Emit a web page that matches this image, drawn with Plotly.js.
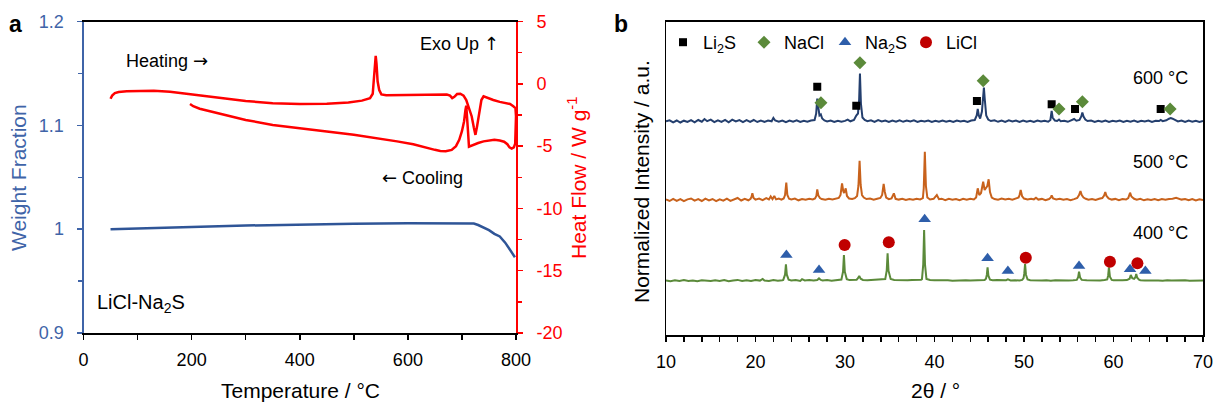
<!DOCTYPE html>
<html>
<head>
<meta charset="utf-8">
<script src="https://cdn.plot.ly/plotly-3.0.1.min.js"></script>
<style>html,body{margin:0;padding:0;background:#fff;}#chart{width:1215px;height:406px;}</style>
</head>
<body>
<div id="chart"></div>
<script>
// ---------- Panel a: TGA / DSC ----------
const tgaTemp   = [50, 100, 200, 300, 400, 500, 600, 700, 722, 730, 740, 750, 760, 770, 780, 785, 790, 798];
const tgaWeight = [1.000, 1.0005, 1.002, 1.0035, 1.0045, 1.0053, 1.0056, 1.0056, 1.0055, 1.004, 1.0015, 0.999, 0.9955, 0.993, 0.987, 0.983, 0.979, 0.973];

const dscHeatT  = [50, 53, 58, 65, 80, 100, 130, 160, 200, 250, 300, 350, 400, 450, 490, 515, 530, 535, 537, 539, 540.5, 542, 544, 547, 551, 560, 600, 640, 672, 678, 682, 686, 691, 697, 703, 708, 713, 718, 722, 725, 728, 732, 736, 740, 745, 758, 770, 780, 789, 795, 799];
const dscHeatHF = [-1.2, -0.95, -0.75, -0.66, -0.6, -0.57, -0.56, -0.63, -0.85, -1.12, -1.38, -1.56, -1.63, -1.6, -1.5, -1.35, -1.15, -0.8, 0.3, 1.8, 2.25, 1.6, 0.2, -0.5, -0.85, -0.92, -0.9, -0.86, -0.86, -0.95, -1.15, -1.05, -0.82, -0.8, -0.95, -1.3, -1.9, -2.6, -3.5, -4.1, -3.4, -2.2, -1.3, -1.0, -1.1, -1.3, -1.45, -1.55, -1.62, -1.8, -1.95];
const dscCoolT  = [800, 799.5, 798.5, 796, 792, 788, 784, 778, 770, 760, 750, 740, 730, 722, 716, 713, 711.5, 710, 708, 706.5, 704, 700, 695, 689, 681, 670, 660, 650, 635, 610, 580, 550, 500, 450, 400, 350, 300, 250, 215, 203, 197];
const dscCoolHF = [-2.6, -3.8, -4.8, -5.1, -5.2, -5.1, -4.85, -4.65, -4.55, -4.5, -4.55, -4.62, -4.75, -4.88, -5.0, -5.05, -4.0, -2.6, -1.75, -2.1, -3.0, -3.8, -4.5, -5.0, -5.3, -5.42, -5.4, -5.3, -5.12, -4.85, -4.62, -4.42, -4.08, -3.82, -3.55, -3.3, -2.9, -2.4, -2.0, -1.8, -1.62];

const hfTickVals = [-20, -15, -10, -5, 0, 5];
const hfTickText = ['-20', '-15', '-10', '-5', '0', '5'];

// ---------- Panel b: XRD (relative intensity, [2theta, I]) ----------
const xrdLabels  = ['400 °C', '500 °C', '600 °C'];
const xrdOffsets = [54.3, 135, 213.5];
const xrdColors  = ['#5B8A3A', '#C8621C', '#243F6E'];

const xrd400 = [[10.0,0.3],[10.5,-0.5],[11.0,0.4],[11.5,-0.3],[12.0,0.6],[12.5,-0.4],[13.0,0.2],[13.5,-0.6],[14.0,0.5],[14.5,0.0],[15.0,-0.4],[15.5,0.5],[16.0,-0.2],[16.5,0.6],[17.0,-0.5],[17.5,0.3],[18.0,0.8],[18.5,-0.3],[19.0,0.5],[19.5,-0.2],[20.0,0.7],[20.5,0.1],[20.8,1.8],[21.0,0.2],[21.5,-0.3],[22.0,0.6],[22.5,0.0],[23.0,0.5],
 [23.1,0.8],[23.3,6],[23.4,16.3],[23.5,6],[23.7,1.0],[24.0,0.2],[24.5,0.6],[25.0,-0.2],[25.2,1.5],[25.5,0.3],[26.0,0.7],[26.5,0.2],[26.9,0.6],[27.1,2.3],[27.3,0.8],[27.5,0.3],[28.0,0.6],[28.5,0.0],[29.0,0.5],[29.4,0.8],
 [29.6,1.2],[29.78,9],[29.88,25.7],[29.98,9],[30.2,1.5],[30.5,0.6],[31.0,0.9],[31.3,1.0],[31.45,2.5],[31.59,4.7],[31.75,2.0],[32.0,0.8],[32.5,0.4],[33.0,0.7],[33.5,0.5],[34.0,0.9],[34.4,1.2],
 [34.5,1.6],[34.66,10],[34.76,27.3],[34.86,10],[35.1,1.8],[35.5,0.8],[36.0,0.5],[36.5,0.9],[37.0,0.4],[37.5,0.7],[38.0,0.5],[38.5,0.9],
 [38.6,1.5],[38.74,16],[38.84,50.7],[38.94,16],[39.1,1.8],[39.5,0.7],[40.0,0.4],[40.5,0.6],[41.0,0.2],[41.5,0.5],[42.0,0.0],[42.5,0.4],[43.0,0.1],[43.5,0.5],[44.0,0.2],[44.5,0.5],[45.0,0.3],[45.4,1.2],[45.6,0.8],
 [45.75,2],[45.85,6],[45.93,13.3],[46.02,5],[46.2,1],[46.5,0.4],[47.0,0.6],[47.5,0.2],[48.0,0.5],[48.2,1.3],[48.5,0.3],[49.0,0.5],[49.5,0.2],[49.8,0.8],
 [49.95,2.5],[50.03,7],[50.12,16.7],[50.22,6],[50.4,1.2],[50.7,0.5],[51.0,0.3],[51.5,0.6],[52.0,0.1],[52.5,0.5],[53.0,0.0],[53.5,0.4],[54.0,0.2],[54.5,0.5],[55.0,0.1],[55.5,0.4],[55.9,0.8],
 [56.05,3.5],[56.15,9],[56.27,3.0],[56.45,0.8],[57.0,0.4],[57.5,0.1],[58.0,0.5],[58.5,0.2],[59.0,0.6],[59.3,1.2],[59.4,5],[59.49,13.3],[59.6,4],[59.8,0.8],[60.0,0.4],[60.5,0.1],[61.0,0.5],[61.5,0.6],
 [61.8,2],[61.93,5.7],[62.1,2.5],[62.3,1.8],[62.45,3.5],[62.54,6.7],[62.65,3],[62.85,1.0],[63.0,0.5],[63.5,0.2],[64.0,0.4],[64.5,0.0],[65.0,0.3],[65.5,-0.1],[66.0,0.4],[66.5,0.1],[67.0,0.3],[67.5,-0.2],[68.0,0.4],[68.5,0.0],[69.0,0.3],[69.5,-0.1],[70.0,0.2]];

const xrd500 = [[10.0,0.5],[10.4,-1.0],[10.8,1.2],[11.2,-0.8],[11.6,0.9],[12.0,-1.2],[12.4,0.6],[12.8,1.5],[13.2,-0.7],[13.6,0.8],[14.0,-1.0],[14.4,1.3],[14.8,-0.4],[15.2,1.0],[15.6,-1.1],[16.0,0.7],[16.4,-0.6],[16.8,1.4],[17.2,-0.9],[17.6,0.8],[18.0,2.0],[18.4,-0.5],[18.8,1.1],[19.2,-0.3],[19.45,1.2],
 [19.55,3],[19.65,6.7],[19.78,2],[20.0,0.4],[20.4,1.5],[20.8,-0.2],[21.2,1.8],[21.5,0.5],[21.7,3.5],[21.9,0.8],[22.1,4.0],[22.3,0.6],[22.6,1.5],[22.9,0.3],[23.15,1.5],
 [23.3,5],[23.44,17.3],[23.56,5],[23.75,1.2],[24.0,0.5],[24.4,1.4],[24.8,-0.3],[25.2,1.0],[25.6,0.2],[26.0,1.2],[26.4,0.5],[26.65,1.5],
 [26.8,4],[26.9,10.7],[27.02,4.5],[27.2,2.0],[27.4,1.0],[27.8,0.3],[28.2,1.2],[28.6,0.5],[29.0,1.4],[29.3,2.0],
 [29.5,5],[29.67,16.7],[29.8,9],[29.9,7],[30.08,11.7],[30.22,4],[30.45,1.5],[30.8,1.0],[31.1,1.8],[31.35,4],
 [31.5,14],[31.63,39.3],[31.75,15],[31.9,5],[32.1,2.5],[32.4,1.0],[32.8,1.4],[33.2,0.3],[33.6,1.2],[33.95,2.0],
 [34.15,5],[34.32,16],[34.45,8],[34.6,2.5],[34.9,0.8],[35.2,1.5],[35.46,6.7],[35.65,1.2],[36.0,0.4],[36.4,1.2],[36.8,0.0],[37.2,1.0],[37.6,0.2],[38.0,1.3],[38.4,0.5],[38.7,1.8],
 [38.8,12],[38.92,48.3],[39.04,14],[39.2,2.5],[39.5,0.5],[39.9,1.2],[40.26,5],[40.5,0.8],[40.8,1.3],[41.2,-0.2],[41.6,1.2],[42.0,0.3],[42.4,1.0],[42.8,-0.3],[43.2,1.1],[43.6,0.2],[44.0,1.3],[44.4,0.5],[44.65,2.5],
 [44.83,11.7],[45.0,5],[45.2,7],[45.44,18.3],[45.6,10],[45.75,12],[45.9,14],[46.05,20.7],[46.2,8],[46.4,2.5],[46.7,1.0],[47.1,0.3],[47.5,1.4],[47.9,0.5],[48.3,1.2],[48.7,0.3],[49.1,1.5],[49.4,2.5],
 [49.5,5],[49.63,10],[49.78,4],[50.0,1.5],[50.4,0.5],[50.8,1.3],[51.1,0.6],[51.34,2.3],[51.6,0.4],[52.0,1.1],[52.4,-0.2],[52.8,1.0],[53.0,2.5],[53.09,4.7],[53.25,1.5],[53.6,0.6],[54.0,1.2],[54.4,0.2],[54.8,1.0],[55.2,-0.2],[55.6,0.9],[55.95,2.0],
 [56.15,5],[56.31,9],[56.45,5],[56.65,2.5],[56.9,1.2],[57.2,0.3],[57.6,1.0],[58.0,0.0],[58.4,1.2],[58.75,2.0],[58.95,4.5],[59.08,8],[59.22,4],[59.45,1.5],[59.8,0.4],[60.2,1.1],[60.6,-0.2],[61.0,1.0],[61.4,0.5],[61.65,2.0],
 [61.85,7.3],[62.0,3.5],[62.3,1.2],[62.6,0.2],[63.0,1.2],[63.4,-0.3],[63.8,0.8],[64.2,0.0],[64.6,1.0],[65.0,-0.2],[65.4,0.9],[65.8,0.3],[66.2,1.1],[66.6,1.2],[67.0,2.2],[67.3,1.5],[67.6,0.4],[68.0,1.0],[68.4,-0.3],[68.8,0.9],[69.2,-0.4],[69.6,0.7],[70.0,0.1]];

const xrd600 = [[10.0,0.2],[10.4,1.2],[10.8,-0.8],[11.2,1.0],[11.6,-1.0],[12.0,0.8],[12.4,-0.5],[12.8,1.3],[13.2,-0.8],[13.6,1.5],[14.0,-0.2],[14.3,2.5],[14.6,0.3],[15.0,1.8],[15.4,-0.6],[15.8,1.2],[16.2,-0.4],[16.6,1.6],[17.0,-0.8],[17.4,1.9],[17.8,0.0],[18.2,1.4],[18.6,-0.6],[19.0,1.3],[19.4,-0.3],[19.8,1.5],[20.2,-0.5],[20.6,1.0],[21.0,-0.4],[21.4,0.9],[21.8,0.2],[22.0,3.5],[22.2,1.0],[22.6,-0.3],[23.0,1.0],[23.4,-0.6],[23.8,0.9],[24.2,-0.2],[24.6,1.1],[25.0,-0.5],[25.4,0.8],[25.8,-0.3],[26.2,1.0],[26.6,1.5],
 [26.78,8],[26.9,23],[27.02,14],[27.15,6],[27.3,7],[27.45,3],[27.7,1.0],[28.0,0.0],[28.4,1.0],[28.8,-0.5],[29.2,0.8],[29.6,-0.3],[30.0,0.6],[30.3,1.8],[30.6,0.2],[31.0,1.5],
 [31.26,6],[31.45,8],[31.58,22],[31.67,48],[31.78,18],[31.95,4],[32.2,1.5],[32.5,0.3],[32.9,1.2],[33.3,-0.4],[33.7,1.4],[34.1,0.0],[34.5,0.9],[34.9,-0.5],[35.3,1.0],[35.7,-0.2],[36.1,1.2],[36.5,-0.3],[36.9,0.9],[37.3,0.0],[37.7,1.1],[38.1,-0.4],[38.5,0.8],[38.9,0.0],[39.3,1.0],[39.7,-0.5],[40.1,0.8],[40.5,-0.3],[40.9,1.0],[41.3,-0.2],[41.7,0.8],[42.1,-0.5],[42.5,1.0],[42.9,0.0],[43.3,0.8],[43.7,-0.4],[44.1,1.0],[44.5,1.5],
 [44.72,6],[44.83,12.5],[44.95,6],[45.1,3],[45.3,10],[45.45,26],[45.52,34],[45.62,22],[45.78,6],[46.0,2],[46.3,0.5],[46.7,1.2],[47.1,-0.3],[47.5,0.9],[47.9,-0.5],[48.3,1.1],[48.7,0.0],[49.1,0.9],[49.5,-0.4],[49.9,1.0],[50.3,-0.3],[50.7,0.8],[51.1,-0.5],[51.5,1.0],[51.9,0.0],[52.3,0.8],[52.7,-0.2],[52.95,1.5],
 [53.09,10.7],[53.2,4],[53.45,1.0],[53.7,0.5],[53.91,2],[54.1,0.3],[54.5,0.8],[54.9,-0.3],[55.3,0.9],[55.6,2.5],[55.85,0.8],[56.2,1.5],[56.4,5],[56.52,9],[56.65,5],[56.85,2],[57.1,0.5],[57.5,1.0],[57.9,-0.4],[58.3,0.8],[58.7,-0.3],[59.1,1.0],[59.5,-0.5],[59.9,0.7],[60.3,0.0],[60.7,1.0],[61.1,-0.4],[61.5,0.8],[61.9,-0.2],[62.3,1.0],[62.7,-0.5],[63.1,0.8],[63.5,0.0],[63.9,1.0],[64.3,-0.4],[64.7,0.8],[65.1,0.5],[65.27,1.5],[65.5,0.3],[65.9,1.2],[66.2,2.8],[66.4,3.5],[66.6,2.8],[66.9,1.0],[67.2,0.0],[67.6,1.0],[68.0,-0.5],[68.4,0.9],[68.8,-0.2],[69.2,0.8],[69.6,-0.4],[70.0,0.5]];

// Phase markers (2theta, absolute plotted height)
const li2sX = [26.9, 31.26, 44.74, 53.09, 55.7, 65.27];
const li2sY = [248.3, 229.3, 234, 230.7, 226, 226];
const naclX = [27.31, 31.67, 45.44, 53.91, 56.52, 66.33];
const naclY = [232.3, 272.3, 254.3, 226, 233.3, 226];
const na2sX = [23.45, 27.1, 38.9, 45.93, 48.2, 56.15, 61.85, 63.56];
const na2sY = [80, 65, 115.7, 76.7, 64, 69, 65.7, 64];
const liclX = [29.96, 34.89, 50.2, 59.6, 62.67];
const liclY = [90, 92.7, 77.3, 73.3, 71.7];

// ---------- build ----------
const W = 1215, H = 406;
const fx = p => p / W, fy = p => 1 - p / H;
const BLUE_AX = '#3F64A8', RED = '#FF0000';
const FONT = 'Liberation Sans, Arial, sans-serif';
const ARW = s => '<span style="font-family:DejaVu Sans">' + s + '</span>';

const traces = [];
traces.push({x: tgaTemp, y: tgaWeight, xaxis: 'x', yaxis: 'y', mode: 'lines',
  line: {color: '#2F5597', width: 2.5}, showlegend: false, hoverinfo: 'skip'});
traces.push({x: dscHeatT.concat(dscCoolT), y: dscHeatHF.concat(dscCoolHF), xaxis: 'x', yaxis: 'y2', mode: 'lines',
  line: {color: RED, width: 2.5}, showlegend: false, hoverinfo: 'skip'});

[xrd400, xrd500, xrd600].forEach((pat, i) => {
  traces.push({x: pat.map(p => p[0]), y: pat.map(p => p[1] + xrdOffsets[i]), xaxis: 'x2', yaxis: 'y3',
    mode: 'lines', line: {color: xrdColors[i], width: 2}, name: xrdLabels[i], showlegend: false, hoverinfo: 'skip'});
});

traces.push({x: li2sX, y: li2sY, xaxis: 'x2', yaxis: 'y3', mode: 'markers', name: 'Li<sub>2</sub>S',
  marker: {symbol: 'square', size: 8, color: '#000000'}});
traces.push({x: naclX, y: naclY, xaxis: 'x2', yaxis: 'y3', mode: 'markers', name: 'NaCl',
  marker: {symbol: 'diamond', size: 10, color: '#5B8A3A'}});
traces.push({x: na2sX, y: na2sY, xaxis: 'x2', yaxis: 'y3', mode: 'markers', name: 'Na<sub>2</sub>S',
  marker: {symbol: 'triangle-up', size: 11, color: '#2E5EAA'}});
traces.push({x: liclX, y: liclY, xaxis: 'x2', yaxis: 'y3', mode: 'markers', name: 'LiCl',
  marker: {symbol: 'circle', size: 12, color: '#C00000'}});

const ann = (text, x, y, opts) => Object.assign({text: text, x: fx(x), y: fy(y), xref: 'paper', yref: 'paper',
  showarrow: false, xanchor: 'left', yanchor: 'middle', font: {size: 18, color: '#000'}}, opts || {});

const annotations = [
  ann('<b>a</b>', 7, 24, {font: {size: 23, color: '#000'}}),
  ann('<b>b</b>', 612, 24, {font: {size: 23, color: '#000'}}),
  ann('Heating ' + ARW('→'), 124, 60),
  ann('Exo Up ' + ARW('↑'), 418, 43),
  ann(ARW('←') + ' Cooling', 380, 177),
  ann('LiCl-Na<sub>2</sub>S', 95, 303, {font: {size: 20, color: '#000'}}),
  ann('Temperature / °C', 300, 390, {xanchor: 'center', font: {size: 21, color: '#000'}}),
  ann('Weight Fraction', 18, 178, {xanchor: 'center', textangle: -90, font: {size: 21, color: BLUE_AX}}),
  ann('Heat Flow / W g<sup>-1</sup>', 577, 178, {xanchor: 'center', textangle: -90, font: {size: 21, color: RED}}),
  ann('2θ / °', 935, 390, {xanchor: 'center', font: {size: 21, color: '#000'}}),
  ann('Normalized Intensity / a.u.', 641, 182, {xanchor: 'center', textangle: -90, font: {size: 21, color: '#000'}}),
  ann(xrdLabels[2], 1190, 78, {xanchor: 'right'}),
  ann(xrdLabels[1], 1190, 162, {xanchor: 'right'}),
  ann(xrdLabels[0], 1190, 233, {xanchor: 'right'})
];

const layout = {
  width: W, height: H, margin: {l: 0, r: 0, t: 0, b: 0},
  paper_bgcolor: '#fff', plot_bgcolor: '#fff',
  font: {family: FONT, size: 18, color: '#000'},
  showlegend: true,
  legend: {orientation: 'h', x: fx(663), y: fy(24), xanchor: 'left', yanchor: 'top',
    font: {size: 18, color: '#000'}, bgcolor: 'rgba(0,0,0,0)', itemwidth: 30, tracegroupgap: 0,
    entrywidth: 36, entrywidthmode: 'pixels'},
  xaxis: {domain: [fx(83.5), fx(516)], range: [0, 800], anchor: 'y', showline: true, linecolor: '#000', linewidth: 1.5,
    mirror: true, ticks: 'outside', ticklen: 5, tickwidth: 1.5, tickcolor: '#000', tick0: 0, dtick: 200,
    minor: {tick0: 0, dtick: 100, ticks: 'outside', ticklen: 5, tickwidth: 1.5, tickcolor: '#000'},
    showgrid: false, zeroline: false, tickfont: {size: 18}, ticklabelstandoff: 5, fixedrange: true},
  yaxis: {domain: [fy(333), fy(21.5)], range: [0.9, 1.2], anchor: 'x', showline: true, linecolor: BLUE_AX, linewidth: 2,
    ticks: 'outside', ticklen: 5, tickwidth: 1.5, tickcolor: BLUE_AX, tick0: 0.9, dtick: 0.1,
    minor: {tick0: 0.9, dtick: 0.05, ticks: 'outside', ticklen: 4, tickwidth: 1.5, tickcolor: BLUE_AX},
    showgrid: false, zeroline: false, tickfont: {size: 18, color: BLUE_AX}, ticklabelstandoff: 9},
  yaxis2: {overlaying: 'y', side: 'right', anchor: 'x', range: [-20, 5], showline: true, linecolor: RED, linewidth: 2,
    tickmode: 'array', tickvals: hfTickVals, ticktext: hfTickText,
    ticks: 'outside', ticklen: 5, tickwidth: 1.5, tickcolor: RED,
    minor: {tickmode: 'linear', tick0: -20, dtick: 2.5, ticks: 'outside', ticklen: 4, tickwidth: 1.5, tickcolor: RED},
    showgrid: false, zeroline: false, tickfont: {size: 18, color: RED}, ticklabelstandoff: 10},
  xaxis2: {domain: [fx(666), fx(1203)], range: [10, 70], anchor: 'y3', showline: true, linecolor: '#000', linewidth: 1.5,
    mirror: true, ticks: 'outside', ticklen: 5, tickwidth: 1.5, tickcolor: '#000', tick0: 10, dtick: 10,
    minor: {tick0: 10, dtick: 2, ticks: 'outside', ticklen: 5, tickwidth: 1.5, tickcolor: '#000'},
    showgrid: false, zeroline: false, tickfont: {size: 18}, ticklabelstandoff: 5},
  yaxis3: {domain: [fy(335), fy(21.7)], range: [0, 313.3], anchor: 'x2', showline: true, linecolor: '#000', linewidth: 1.5,
    mirror: true, ticks: '', showticklabels: false, showgrid: false, zeroline: false},
  annotations: annotations
};

Plotly.newPlot('chart', traces, layout, {displayModeBar: false, staticPlot: true});
</script>
</body>
</html>
